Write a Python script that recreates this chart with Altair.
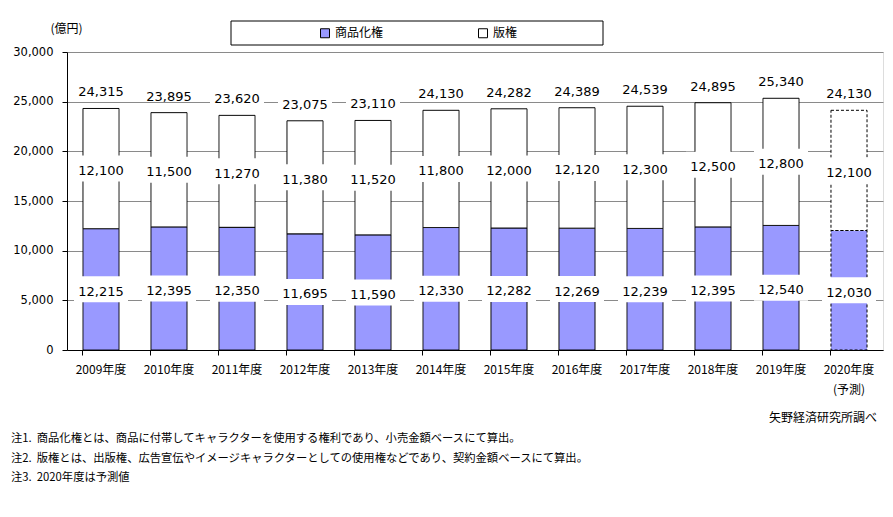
import altair as alt
import pandas as pd

years = ['2009年度', '2010年度', '2011年度', '2012年度', '2013年度', '2014年度',
         '2015年度', '2016年度', '2017年度', '2018年度', '2019年度', '2020年度']
merch = [12215, 12395, 12350, 11695, 11590, 12330, 12282, 12269, 12239, 12395, 12540, 12030]
copyright_vals = [12100, 11500, 11270, 11380, 11520, 11800, 12000, 12120, 12300, 12500, 12800, 12100]
totals = [24315, 23895, 23620, 23075, 23110, 24130, 24282, 24389, 24539, 24895, 25340, 24130]
forecast_year = '2020年度'

series_names = ['商品化権', '版権']
series_colors = ['#9999FF', '#FFFFFF']
kind_names = ['実績', '予測']

notes = ['注1.\u00a0\u00a0商品化権とは、商品に付帯してキャラクターを使用する権利であり、小売金額ベースにて算出。',
         '注2.\u00a0\u00a0版権とは、出版権、広告宣伝やイメージキャラクターとしての使用権などであり、契約金額ベースにて算出。',
         '注3.\u00a0\u00a02020年度は予測値']
source_text = '矢野経済研究所調べ'
y_title = '(億円)'

FONT_JP = 'Noto Sans CJK JP'
FONT_NUM = 'DejaVu Sans'
W, H = 816, 298
YMAX = 30000
K = YMAX / H  # data units per pixel

bar_rows, lab_rows, top_rows = [], [], []
for yr, m, c, t in zip(years, merch, copyright_vals, totals):
    kind = kind_names[1] if yr == forecast_year else kind_names[0]
    bar_rows.append(dict(year=yr, series=series_names[0], y0=0, y1=m, kind=kind))
    bar_rows.append(dict(year=yr, series=series_names[1], y0=m, y1=t, kind=kind))
    for v, mid in ((m, m / 2), (c, m + c / 2)):
        lab_rows.append(dict(year=yr, value=v, mid=mid, lo=mid - 13 * K, hi=mid + 13 * K))
    top_rows.append(dict(year=yr, value=t, lo=t + 11 * K, hi=t + 23 * K))

bars_df = pd.DataFrame(bar_rows)
lab_df = pd.DataFrame(lab_rows)
top_df = pd.DataFrame(top_rows)

xscale = alt.Scale(domain=years, paddingInner=0.47, paddingOuter=0.235)
yscale = alt.Scale(domain=[0, YMAX], nice=False)

x_enc = alt.X('year:N', scale=xscale, sort=years,
              axis=alt.Axis(title=None, labelAngle=0, labelFont=FONT_JP, labelFontSize=12,
                            labelColor='black', tickSize=5, bandPosition=0,
                            domainColor='black', tickColor='black', labelPadding=9,
                            labelLineHeight=20, grid=False,
                            labelExpr="datum.value == '2020年度' ? ['2020年度', '(予測)'] : datum.value"))

bars = alt.Chart(bars_df).mark_bar(stroke='black', strokeWidth=1).encode(
    x=x_enc,
    y=alt.Y('y0:Q', scale=yscale,
            axis=alt.Axis(title=y_title, titleAngle=0, titleX=-17, titleY=-24,
                          titleAlign='left', titleBaseline='middle', titleFont=FONT_JP,
                          titleFontSize=12, titleFontWeight='normal', titleColor='black',
                          values=[0, 5000, 10000, 15000, 20000, 25000, 30000], format=',d',
                          labelFont=FONT_NUM, labelFontSize=11.5, labelColor='black',
                          labelPadding=9, tickSize=5, tickColor='black', domainColor='black',
                          grid=True, gridColor='#8a8a8a', gridWidth=1)),
    y2='y1:Q',
    color=alt.Color('series:N', scale=alt.Scale(domain=series_names, range=series_colors),
                    legend=alt.Legend(title=None, orient='none', legendX=252, legendY=-25,
                                      direction='horizontal', symbolType='square',
                                      symbolSize=81, symbolStrokeColor='black',
                                      symbolStrokeWidth=1, labelFont=FONT_JP,
                                      labelFontSize=12, labelColor='black',
                                      columnPadding=92, padding=0, labelOffset=4)),
    strokeDash=alt.StrokeDash('kind:N', scale=alt.Scale(domain=kind_names, range=[[1, 0], [3, 2]]),
                              legend=None),
)

lab_boxes = alt.Chart(lab_df).mark_bar(width=54, color='white', strokeWidth=0).encode(
    x=alt.X('year:N', scale=xscale, sort=years), y=alt.Y('lo:Q', scale=yscale), y2='hi:Q')
lab_text = alt.Chart(lab_df).mark_text(font=FONT_NUM, fontSize=13, baseline='middle', dy=2.5,
                                       color='black').encode(
    x=alt.X('year:N', scale=xscale, sort=years), y=alt.Y('mid:Q', scale=yscale),
    text=alt.Text('value:Q', format=',d'))

top_boxes = alt.Chart(top_df).mark_bar(width=54, color='white', strokeWidth=0).encode(
    x=alt.X('year:N', scale=xscale, sort=years), y=alt.Y('lo:Q', scale=yscale), y2='hi:Q')
top_text = alt.Chart(top_df).mark_text(font=FONT_NUM, fontSize=13, baseline='middle', dy=-16,
                                       color='black').encode(
    x=alt.X('year:N', scale=xscale, sort=years), y=alt.Y('value:Q', scale=yscale),
    text=alt.Text('value:Q', format=',d'))

one = pd.DataFrame({'k': [0]})
legend_frame = alt.Chart(one).mark_rect(fill='white', stroke='black', strokeWidth=1).encode(
    x=alt.value(164), x2=alt.value(536), y=alt.value(-31), y2=alt.value(-7))

notes_text = alt.Chart(one).mark_text(font=FONT_JP, fontSize=11.3, align='left',
                                      baseline='alphabetic', lineHeight=19.5,
                                      color='black').encode(
    x=alt.value(-56), y=alt.value(390), text=alt.value(notes))

source = alt.Chart(one).mark_text(font=FONT_JP, fontSize=12, align='right',
                                  baseline='alphabetic', color='black').encode(
    x=alt.value(810), y=alt.value(369.5), text=alt.value(source_text))

chart = alt.layer(legend_frame, bars, lab_boxes, top_boxes, lab_text, top_text,
                  notes_text, source).properties(
    width=W, height=H,
    autosize=alt.AutoSizeParams(type='none'),
    padding={'left': 59, 'top': 44, 'right': 2, 'bottom': 159},
).configure_view(stroke='#8a8a8a', strokeWidth=1).configure(background='white')

chart.save('out.html', embed_options={'renderer': 'svg', 'actions': False})
